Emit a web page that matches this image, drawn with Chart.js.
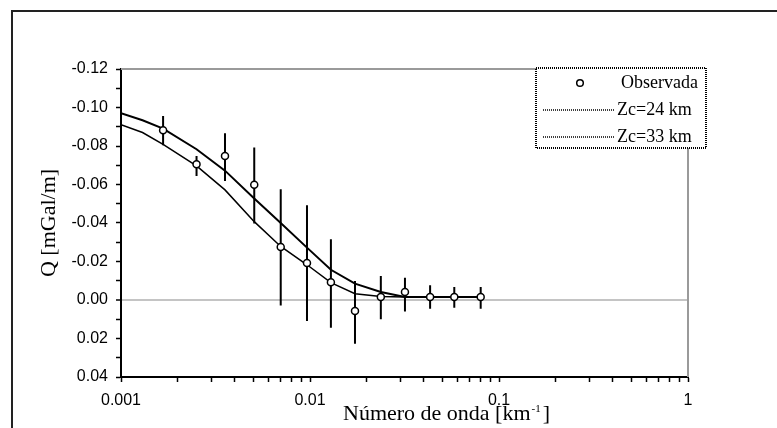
<!DOCTYPE html>
<html><head><meta charset="utf-8">
<script src="https://cdn.jsdelivr.net/npm/chart.js@4.4.1/dist/chart.umd.min.js"></script>
<style>html,body{margin:0;padding:0;background:#fff}#wrap{width:777px;height:428px;position:relative}</style>
</head><body><div id="wrap"><canvas id="c"></canvas></div>
<script>
// ---- data ----
const wavenumbers = [0.00167,0.00251,0.00355,0.00507,0.0070,0.00964,0.0129,0.0173,0.0237,0.0318,0.0432,0.058,0.080];
const observed    = [-0.0882,-0.0705,-0.0748,-0.0599,-0.0275,-0.0192,-0.0092,0.0057,-0.0016,-0.0042,-0.0016,-0.0016,-0.0016];
const errLow      = [-0.0956,-0.0748,-0.0866,-0.0792,-0.0575,-0.0492,-0.0315,-0.0099,-0.0125,-0.0116,-0.0076,-0.0068,-0.0068];
const errHigh     = [-0.0804,-0.0644,-0.0618,-0.0397,0.0028,0.0109,0.0144,0.0227,0.0100,0.0060,0.0045,0.0040,0.0045];
const curveK      = [0.001,0.0013,0.00167,0.00251,0.00355,0.00507,0.0070,0.00964,0.0129,0.0173,0.0237,0.0318,0.0432,0.058,0.080];
const zc24        = [-0.0970,-0.0934,-0.0890,-0.0783,-0.0672,-0.0527,-0.0400,-0.0272,-0.0157,-0.0085,-0.0042,-0.0016,-0.0015,-0.0015,-0.0015];
const zc33        = [-0.0911,-0.0870,-0.0809,-0.0697,-0.0572,-0.0407,-0.0278,-0.0183,-0.0090,-0.0033,-0.0018,-0.0015,-0.0015,-0.0015,-0.0015];
const seriesLabels = ['Observada','Zc=24 km','Zc=33 km'];
const xTickLabels = ['0.001','0.01','0.1','1'];
const yTickLabels = ['-0.12','-0.10','-0.08','-0.06','-0.04','-0.02','0.00','0.02','0.04'];
const xTitleMain = 'Número de onda [km';
const xTitleSup = '-1';
const xTitleEnd = ']';
const yTitle = 'Q [mGal/m]';

// ---- derived structures ----
const xMajors = xTickLabels.map(Number);
const yMajors = yTickLabels.map(Number);
const near = (a,b,eps)=>Math.abs(a-b) < eps;

const obsPts = wavenumbers.map((k,i)=>({x:k,y:observed[i]}));
const errPts = [];
wavenumbers.forEach((k,i)=>{ errPts.push({x:k,y:errLow[i]},{x:k,y:errHigh[i]},{x:k,y:null}); });
const c24 = curveK.map((k,i)=>({x:k,y:zc24[i]}));
const c33 = curveK.map((k,i)=>({x:k,y:zc33[i]}));

const SANS = '"Liberation Sans", Arial, sans-serif';
const SERIF = '"Liberation Serif", "Times New Roman", serif';

const decor = {
  id:'decor',
  beforeDraw(chart){
    const ctx = chart.ctx;
    ctx.save();
    ctx.fillStyle='#fff'; ctx.fillRect(0,0,chart.width,chart.height);
    // outer frame
    ctx.strokeStyle='#222'; ctx.lineWidth=2;
    ctx.strokeRect(12,11,chart.width+20,chart.height+20);
    ctx.restore();
  },
  beforeDatasetsDraw(chart){
    const {ctx, chartArea:a} = chart;
    ctx.save();
    ctx.strokeStyle='#9a9a9a'; ctx.lineWidth=2;
    ctx.beginPath();
    ctx.moveTo(a.left, a.top); ctx.lineTo(a.right, a.top); ctx.lineTo(a.right, a.bottom);
    ctx.stroke();
    ctx.restore();
  },
  afterDraw(chart){
    const {ctx, chartArea:a} = chart;
    ctx.save();
    // axis titles
    ctx.fillStyle='#000';
    ctx.font = '22px '+SERIF;
    ctx.textBaseline='alphabetic'; ctx.textAlign='left';
    let x0 = 343, yb = 420;
    ctx.fillText(xTitleMain, x0, yb);
    let w = ctx.measureText(xTitleMain).width;
    ctx.font = '11px '+SERIF;
    ctx.fillText(xTitleSup, x0+w+1, yb-8);
    let w2 = ctx.measureText(xTitleSup).width;
    ctx.font = '22px '+SERIF;
    ctx.fillText(xTitleEnd, x0+w+w2+3, yb);
    ctx.save();
    ctx.translate(49, (a.top+a.bottom)/2);
    ctx.rotate(-Math.PI/2);
    ctx.textAlign='center'; ctx.textBaseline='middle';
    ctx.fillText(yTitle, 0, 0);
    ctx.restore();
    // legend
    const bx=536, by=68, bw=170, bh=80;
    ctx.fillStyle='#fff'; ctx.fillRect(bx,by,bw,bh);
    ctx.strokeStyle='#000'; ctx.lineWidth=2; ctx.setLineDash([1,1]);
    ctx.strokeRect(bx,by,bw,bh);
    ctx.setLineDash([]);
    ctx.beginPath(); ctx.arc(580,83,3.3,0,Math.PI*2);
    ctx.fillStyle='#fff'; ctx.fill(); ctx.lineWidth=1.5; ctx.strokeStyle='#000'; ctx.stroke();
    ctx.lineWidth=1.5; ctx.setLineDash([1,1]);
    [110,137].forEach(y=>{ ctx.beginPath(); ctx.moveTo(543,y); ctx.lineTo(615,y); ctx.stroke(); });
    ctx.setLineDash([]);
    ctx.fillStyle='#000'; ctx.font='18px '+SERIF; ctx.textAlign='left'; ctx.textBaseline='middle';
    ctx.fillText(seriesLabels[0], 621, 83);
    ctx.fillText(seriesLabels[1], 617, 110);
    ctx.fillText(seriesLabels[2], 617, 137);
    ctx.restore();
  }
};

new Chart(document.getElementById('c'), {
  type:'scatter',
  data:{ datasets:[
    { label:seriesLabels[0], data:obsPts, showLine:false, pointRadius:3.5, pointBackgroundColor:'#fff', pointBorderColor:'#000', pointBorderWidth:1.5 },
    { label:'err', data:errPts, showLine:true, spanGaps:false, pointRadius:0, borderColor:'#000', borderWidth:2 },
    { label:seriesLabels[1], data:c24, showLine:true, pointRadius:0, borderColor:'#000', borderWidth:2 },
    { label:seriesLabels[2], data:c33, showLine:true, pointRadius:0, borderColor:'#000', borderWidth:1.5 }
  ]},
  options:{
    responsive:true, maintainAspectRatio:false, animation:false,
    layout:{ padding:{ left:0, top:69, right:89, bottom:0 } },
    plugins:{ legend:{display:false}, tooltip:{enabled:false} },
    scales:{
      x:{
        type:'logarithmic', min:0.001, max:1,
        afterFit(s){ s.height = 51; },
        afterBuildTicks(s){
          const t=[];
          xMajors.forEach((m,i)=>{ t.push({value:m}); if(i<xMajors.length-1){ for(let j=2;j<=9;j++) t.push({value:m*j}); } });
          s.ticks=t;
        },
        ticks:{ autoSkip:false, maxRotation:0, minRotation:0, padding:9, color:'#000', font:{family:SANS,size:16},
          callback(v){ const i = xMajors.findIndex(m=>near(v,m,m*1e-6)); return i>=0 ? xTickLabels[i] : ''; } },
        grid:{ drawOnChartArea:false, drawTicks:true, tickLength:5, tickColor:'#000', tickWidth:1.5 },
        border:{ color:'#000', width:2 }
      },
      y:{
        type:'linear', reverse:true, min:-0.12, max:0.04,
        afterFit(s){ s.width = 121; },
        afterBuildTicks(s){
          const t=[];
          yMajors.forEach((m,i)=>{ t.push({value:m}); if(i<yMajors.length-1) t.push({value:(m+yMajors[i+1])/2}); });
          s.ticks=t;
        },
        ticks:{ autoSkip:false, padding:8, color:'#000', font:{family:SANS,size:16},
          callback(v){ const i = yMajors.findIndex(m=>near(v,m,1e-7)); return i>=0 ? yTickLabels[i] : ''; } },
        grid:{ drawOnChartArea:true, drawTicks:true, tickLength:5, tickColor:'#000', tickWidth:1.5,
          color(c){ return (c.tick && near(c.tick.value,0,1e-9)) ? '#c4c4c4' : 'rgba(0,0,0,0)'; },
          lineWidth(c){ return (c.tick && near(c.tick.value,0,1e-9)) ? 2 : 1; } },
        border:{ color:'#000', width:2 }
      }
    }
  },
  plugins:[decor]
});
</script>
</body></html>
